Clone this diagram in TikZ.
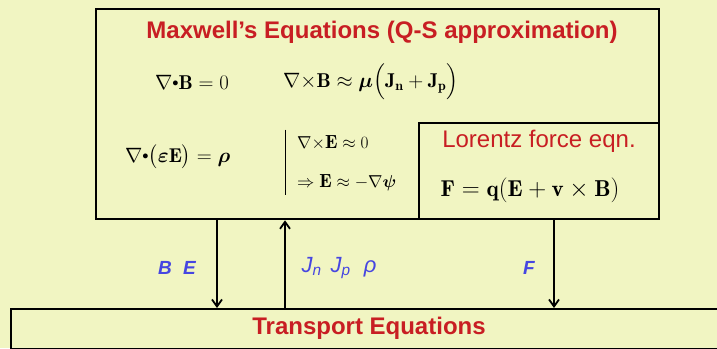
\documentclass[tikz,border=0pt]{standalone}
\usepackage{amsmath,amssymb}
\usepackage{bm}
\usepackage{fontspec}
\setsansfont{Liberation Sans}
\usetikzlibrary{arrows.meta,positioning}
\definecolor{slidebg}{RGB}{241,245,194}
\definecolor{titlered}{RGB}{200,30,35}
\definecolor{qtyblue}{RGB}{70,70,225}
\newcommand{\dotop}{\mathord{\vcenter{\hbox{\scalebox{0.6}{$\bullet$}}}}}

\begin{document}
\begin{tikzpicture}[x=1pt, y=-1pt,
    frame/.style={rectangle, draw=black, line width=2.3pt, inner sep=0pt,
        anchor=north west},
    heading/.style={font=\sffamily\bfseries\fontsize{24}{28}\selectfont,
        text=titlered},
    eqn/.style={font=\fontsize{20}{24}\selectfont, anchor=west, inner sep=0pt},
    flux/.style={-{Straight Barb[length=7pt, width=10pt]}, line width=1.8pt},
    qty/.style={font=\sffamily\bfseries\itshape\fontsize{19}{22}\selectfont,
        text=qtyblue}
]
    \clip (0,0) rectangle (717,348);
    \fill[slidebg] (0,0) rectangle (717,348);

    % Maxwell block and Lorentz sub-block
    \node[frame, minimum width=563pt, minimum height=210pt] (maxwell) at (95,8) {};
    \node[frame, minimum width=240pt, minimum height=96pt] (lorentz) at (418,122) {};
    \node[frame, minimum width=720pt, minimum height=40pt] (transport) at (10,308) {};

    \node[heading] (mtitle) at (382,32) {Maxwell’s Equations (Q-S approximation)};
    \node[eqn] (divb) at (155,82) {$\nabla\dotop\mathbf{B}=0$};
    \node[eqn] (curlb) at (283,82)
        {$\nabla{\times}\mathbf{B}\approx\bm{\mu}\Bigl(\mathbf{J}_{\mathbf{n}}+\mathbf{J}_{\mathbf{p}}\Bigr)$};
    \node[eqn] (dive) at (125,157) {$\nabla\dotop\bigl(\bm{\varepsilon}\mathbf{E}\bigr)=\bm{\rho}$};
    \node[eqn, font=\fontsize{19}{22}\selectfont] (curle) at (297,143) {$\nabla{\times}\mathbf{E}\approx0$};
    \node[eqn, font=\fontsize{19}{22}\selectfont] (grad) at (297,183) {$\Rightarrow\mathbf{E}\approx-\nabla\bm{\psi}$};
    \draw[line width=0.8pt] ([xshift=-12pt, yshift=6pt]curle.north west) -- ([xshift=-12pt, yshift=-4pt]grad.south west);

    % Lorentz force
    \node[font=\sffamily\fontsize{24}{26}\selectfont, text=titlered, inner sep=0pt] (ltitle) at (539,141) {Lorentz force eqn.};
    \node[font=\fontsize{23}{26}\selectfont, inner sep=0pt] (force) at (530,190)
        {$\mathbf{F}=\mathbf{q}(\mathbf{E}+\mathbf{v}\times\mathbf{B})$};

    % Transport block
    \node[heading] (ttitle) at (369,328) {Transport Equations};

    % Couplings
    \coordinate (tapBE) at (217,0);
    \coordinate (tapJ) at (285,0);
    \coordinate (tapF) at (554,0);
    \draw[flux] (maxwell.south -| tapBE) -- (transport.north -| tapBE);
    \draw[flux] (transport.north -| tapJ) -- (maxwell.south -| tapJ);
    \draw[flux] (maxwell.south -| tapF) -- (transport.north -| tapF);
    \node[qty] (lblBE) at (177,268) {B\hspace{0.6em}E};
    \node[qty, font=\sffamily\itshape\fontsize{22}{24}\selectfont] (lblJ) at (339,268)
        {J\textsubscript{n}\hspace{0.4em}J\textsubscript{p}\hspace{0.6em}ρ};
    \node[qty] (lblF) at (529,268) {F};
\end{tikzpicture}
\end{document}
